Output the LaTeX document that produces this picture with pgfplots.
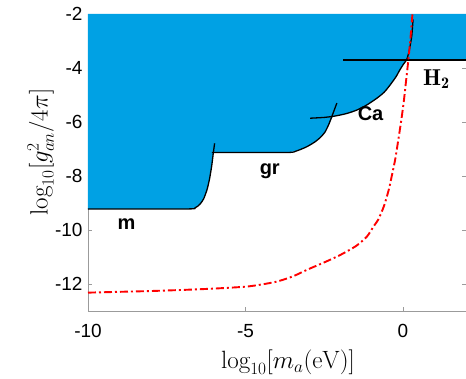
\documentclass[border=0pt]{standalone}
\usepackage{pgfplots}
\pgfplotsset{compat=1.18}
\usepackage{fontspec}
\newfontfamily\arial{Liberation Sans}
\definecolor{fillblue}{RGB}{0,161,228}
\definecolor{axgray}{RGB}{155,155,155}
\begin{document}
\begin{tikzpicture}
\begin{axis}[
  scale only axis, width=378pt, height=297pt,
  xmin=-10, xmax=2, ymin=-13, ymax=-2,
  xtick={-10,-5,0}, ytick={-12,-10,-8,-6,-4,-2},
  tick align=inside, major tick length=4pt,
  axis line style={axgray, line width=0.6pt},
  every tick/.style={axgray, line width=0.6pt},
  /pgf/number format/assume math mode=true,
  ticklabel style={font=\arial\fontsize{19}{21}\selectfont, text=black},
  xticklabel style={yshift=-10pt},
  yticklabel style={xshift=-2pt},
  xlabel={$\log_{10}[m_a(\mathrm{eV})]$},
  ylabel={$\log_{10}[g_{an}^2/4\pi]$},
  label style={font=\fontsize{25}{30}\selectfont},
  xlabel style={at={(axis description cs:0.529,-0.172)}, anchor=center, inner sep=0pt},
  ylabel style={at={(axis description cs:-0.125,0.535)}, anchor=center, rotate=0},
  clip=true,
]
% blue excluded region
\addplot[fill=fillblue, draw=none] coordinates {
(-10,-2) (-10,-9.22) (-6.75,-9.22) (-6.6,-9.18) (-6.45,-9.05) (-6.33,-8.85)
(-6.22,-8.5) (-6.14,-8.1) (-6.07,-7.6) (-6.03,-7.13)
(-3.7,-7.13) (-3.4,-7.08) (-3.06,-6.92) (-2.8,-6.74) (-2.63,-6.58) (-2.48,-6.38)
(-2.36,-6.1) (-2.22,-5.78)
(-2.16,-5.78) (-1.8,-5.69) (-1.47,-5.56) (-1.15,-5.37) (-0.83,-5.12) (-0.6,-4.9)
(-0.41,-4.63) (-0.22,-4.32) (-0.10,-4.07) (0.02,-3.85) (0.12,-3.7)
(2,-3.7) (2,-2)
} -- cycle;
% m boundary
\addplot[black, line width=1.3pt, smooth, tension=0.4] coordinates {
(-10,-9.22) (-6.85,-9.22) (-6.6,-9.18) (-6.45,-9.05) (-6.33,-8.85)
(-6.22,-8.5) (-6.14,-8.1) (-6.07,-7.6) (-6.02,-7.13) (-5.98,-6.79)
};
% gr boundary
\addplot[black, line width=1.3pt, smooth, tension=0.4] coordinates {
(-6.07,-7.13) (-3.7,-7.13) (-3.4,-7.08) (-3.06,-6.92) (-2.8,-6.74) (-2.63,-6.58)
(-2.48,-6.38) (-2.36,-6.1) (-2.26,-5.8) (-2.18,-5.55) (-2.1,-5.3)
};
% Ca boundary
\addplot[black, line width=1.3pt, smooth, tension=0.4] coordinates {
(-2.95,-5.86) (-2.5,-5.83) (-2.16,-5.78) (-1.8,-5.69) (-1.47,-5.56) (-1.15,-5.37)
(-0.83,-5.12) (-0.6,-4.9) (-0.41,-4.63) (-0.22,-4.32) (-0.10,-4.07) (0.02,-3.85)
(0.12,-3.68) (0.2,-3.35) (0.24,-3.09) (0.28,-2.8) (0.32,-2.2)
};
% H2 boundary
\addplot[black, line width=1.3pt] coordinates {(-1.9,-3.7) (2,-3.7)};
% red dash-dot
\addplot[red, line width=1.9pt, smooth, tension=0.4,
  dash pattern=on 8pt off 3pt on 2pt off 3pt] coordinates {
(-10,-12.32) (-9,-12.29) (-8,-12.26) (-7,-12.22) (-6,-12.17) (-5,-12.1)
(-4.5,-12.02) (-4,-11.91) (-3.5,-11.72) (-3,-11.45) (-2.5,-11.2) (-2,-10.93)
(-1.5,-10.6) (-1.15,-10.25) (-0.94,-9.88) (-0.78,-9.6) (-0.6,-9.1) (-0.45,-8.5)
(-0.36,-8.02) (-0.25,-7.4) (-0.15,-6.67) (-0.05,-5.9) (0.03,-5.19) (0.1,-4.45)
(0.17,-3.7) (0.24,-2.85) (0.3,-2.0)
};
\node[anchor=base, font=\arial\fontsize{20}{22}\selectfont\bfseries] at (axis cs:-8.78,-10.0) {m};
\node[anchor=base, font=\arial\fontsize{20}{22}\selectfont\bfseries] at (axis cs:-4.23,-7.96) {gr};
\node[anchor=base, font=\arial\fontsize{20}{22}\selectfont\bfseries] at (axis cs:-1.03,-5.96) {Ca};
\node[anchor=base, font=\fontsize{23}{26}\selectfont] at (axis cs:1.06,-4.63) {$\mathbf{H}_{\mathbf{2}}$};
\end{axis}
\pgfresetboundingbox
\path[use as bounding box] ([xshift=-88pt,yshift=-68pt]current axis.south west) rectangle ([yshift=14pt]current axis.north east);
\end{tikzpicture}
\end{document}
